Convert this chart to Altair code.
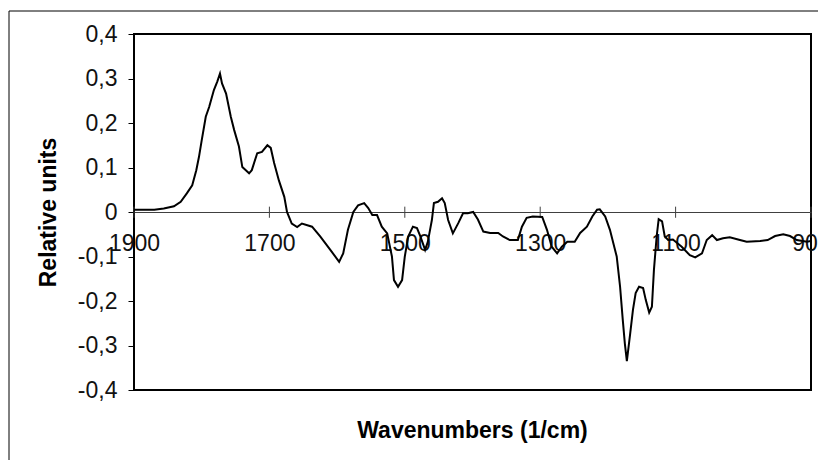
import altair as alt
import pandas as pd

# Spectrum
wavenumber = [1900, 1870, 1856, 1841, 1831, 1822, 1814, 1808, 1804, 1800, 1794, 1789, 1782, 1777, 1773,
              1770, 1764, 1757, 1752, 1745, 1740, 1730, 1726, 1718, 1711, 1703, 1698, 1693, 1686, 1678,
              1674, 1667, 1659, 1652, 1637, 1625, 1610, 1597, 1591, 1584, 1576, 1569, 1560, 1554, 1548,
              1541, 1534, 1526, 1519, 1516, 1510, 1504, 1500, 1495, 1488, 1482, 1477, 1470, 1466, 1460,
              1457, 1451, 1445, 1441, 1436, 1429, 1421, 1414, 1407, 1399, 1392, 1384, 1374, 1362, 1355,
              1345, 1333, 1327, 1320, 1311, 1297, 1290, 1283, 1275, 1268, 1260, 1249, 1241, 1231, 1223,
              1216, 1212, 1204, 1197, 1187, 1182, 1178, 1175, 1172, 1167, 1163, 1159, 1154, 1148, 1144,
              1139, 1135, 1132, 1128, 1125, 1120, 1116, 1111, 1104, 1091, 1079, 1071, 1061, 1054, 1046,
              1039, 1030, 1020, 1005, 995, 975, 964, 953, 941, 931, 921, 906, 900]
relative = [0.005, 0.005, 0.008, 0.013, 0.023, 0.042, 0.060, 0.094, 0.124, 0.161, 0.214, 0.236, 0.274, 0.293, 0.311,
            0.289, 0.266, 0.214, 0.184, 0.147, 0.101, 0.087, 0.094, 0.132, 0.135, 0.150, 0.144, 0.110, 0.071, 0.034,
            0.000, -0.026, -0.034, -0.026, -0.033, -0.055, -0.085, -0.112, -0.093, -0.040, 0.000, 0.015, 0.020, 0.009, -0.007,
            -0.007, -0.033, -0.048, -0.100, -0.153, -0.168, -0.153, -0.100, -0.055, -0.033, -0.036, -0.055, -0.085, -0.067, -0.018,
            0.020, 0.023, 0.031, 0.020, -0.018, -0.048, -0.025, -0.003, -0.003, 0.000, -0.017, -0.044, -0.047, -0.047, -0.055,
            -0.063, -0.063, -0.033, -0.013, -0.010, -0.011, -0.040, -0.078, -0.093, -0.078, -0.067, -0.067, -0.047, -0.033, -0.010,
            0.005, 0.006, -0.010, -0.040, -0.100, -0.168, -0.243, -0.295, -0.335, -0.272, -0.220, -0.182, -0.168, -0.171, -0.198,
            -0.226, -0.213, -0.130, -0.055, -0.016, -0.021, -0.055, -0.063, -0.062, -0.078, -0.097, -0.102, -0.093, -0.063, -0.052,
            -0.063, -0.059, -0.057, -0.063, -0.067, -0.065, -0.063, -0.054, -0.050, -0.054, -0.063, -0.067, -0.065]

x_ticks = [1900, 1700, 1500, 1300, 1100, 900]
y_ticks = [-0.4, -0.3, -0.2, -0.1, 0.0, 0.1, 0.2, 0.3, 0.4]

FONT = "Liberation Sans"
FS = 23

df = pd.DataFrame({"wn": wavenumber, "val": relative})
tick_df = pd.DataFrame({"wn": x_ticks, "top": [0.012] * len(x_ticks), "bot": [-0.013] * len(x_ticks)})

xscale = alt.Scale(domain=[900, 1900], reverse=True, nice=False, zero=False)
yscale = alt.Scale(domain=[-0.4, 0.4], nice=False, zero=False)

ylabel = ("datum.value == 0 ? '0' : (datum.value < 0 ? '-' : '') + '0,' + "
          "format(round(abs(datum.value) * 10), 'd')")

line = alt.Chart(df).mark_line(color="black", strokeWidth=2, clip=True).encode(
    x=alt.X("wn:Q", scale=xscale,
            axis=alt.Axis(values=x_ticks, orient="bottom", offset=-178, ticks=False,
                          domain=True, domainColor="#404040", domainWidth=1,
                          labelFontSize=FS, labelFont=FONT, labelColor="#111111",
                          labelPadding=20, labelFlush=False, labelOverlap=False,
                          grid=False, title=None, format="d")),
    y=alt.Y("val:Q", scale=yscale,
            axis=alt.Axis(values=y_ticks, labelExpr=ylabel, tickSize=6, tickColor="black",
                          tickWidth=1, labelPadding=11, labelFontSize=FS, labelFont=FONT,
                          labelColor="#111111", domain=False, grid=False,
                          title="Relative units", titleFontSize=FS, titleFont=FONT,
                          titleFontWeight="bold", titleColor="black", titlePadding=17)),
)

ticks = alt.Chart(tick_df).mark_rule(color="#404040", strokeWidth=1).encode(
    x=alt.X("wn:Q", scale=xscale),
    y=alt.Y("top:Q", scale=yscale),
    y2="bot:Q",
)

xtitle = alt.Chart(pd.DataFrame({"t": ["Wavenumbers (1/cm)"]})).mark_text(
    font=FONT, fontSize=FS, fontWeight="bold", color="black", baseline="middle", align="center"
).encode(text="t:N", x=alt.value(338.5), y=alt.value(397))

frame = alt.Chart(pd.DataFrame({"k": [1]})).mark_rect(
    fill=None, stroke="black", strokeWidth=1, clip=False
).encode(x=alt.value(-125), x2=alt.value(720), y=alt.value(-23), y2=alt.value(460))

chart = alt.layer(frame, ticks, line, xtitle).properties(
    width=677, height=356,
    autosize=alt.AutoSizeParams(type="none"),
    padding={"left": 126, "top": 26, "right": 7, "bottom": 70},
    background="white",
).configure_view(stroke="black", strokeWidth=2)

chart.save("out.html", embed_options={"renderer": "svg", "actions": False})
